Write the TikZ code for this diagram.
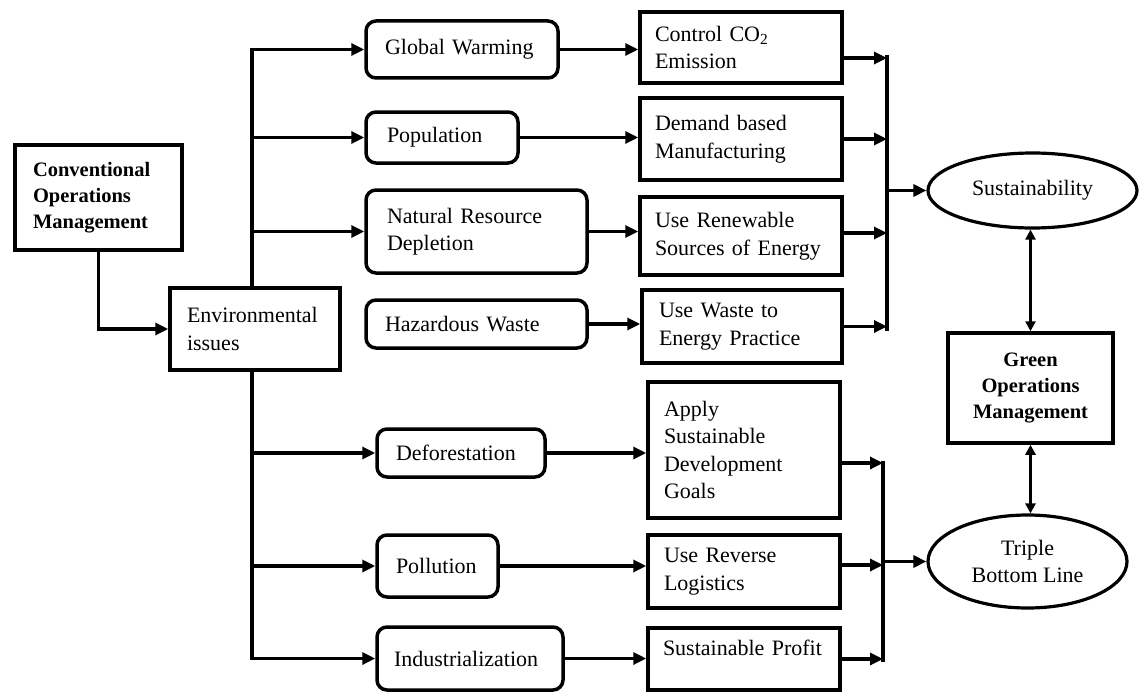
\documentclass[tikz,border=0pt]{standalone}
\usepackage{fontspec}
\setmainfont{Liberation Serif}
\usetikzlibrary{arrows.meta,shapes.geometric}
\begin{document}
\begin{tikzpicture}[x=1pt,y=-1pt,
  txt/.style={font=\fontsize{22}{27.5}\selectfont},
  bold/.style={font=\fontsize{20.5}{26}\selectfont\bfseries},
  sqbox/.style={draw, line width=3.5pt, fill=white, align=left, inner ysep=0pt, txt},
  rbox/.style={sqbox, rounded corners=10pt},
  oval/.style={draw, ellipse, line width=3.2pt, fill=white, align=center, inner sep=0pt, txt},
  bx/.style n args={4}{minimum width=#1pt, minimum height=#2pt, inner xsep=#3pt, text width=#4pt},
  wire/.style={line width=3.2pt},
  arr/.style={wire, -{Triangle[length=13pt,width=12pt]}},
  dbl/.style={wire, {Triangle[length=10pt,width=10pt]}-{Triangle[length=10pt,width=10pt]}}
]
\useasboundingbox (0,0) rectangle (1141,693);

% starting point and central issue
\node[sqbox, bold, bx={167}{105}{18}{131}] (conv) at (98.5,197.5) {Conventional\\Operations\\Management};
\node[sqbox, bx={170}{82}{17}{136}] (env) at (255,329) {Environmental\\issues};

% environmental issues
\node[rbox, bx={192}{57}{19}{154}] (gw)  at (462,49.5)   {Global Warming};
\node[rbox, bx={152}{51}{21}{110}] (pop) at (442,137.5)  {Population};
\node[rbox, bx={221}{83}{21}{179}] (nrd) at (476.5,231.5) {Natural Resource\\Depletion};
\node[rbox, bx={221}{48}{19}{183}] (haz) at (476.5,324)  {Hazardous Waste};
\node[rbox, bx={168}{48}{19}{130}] (def) at (461,453)    {Deforestation};
\node[rbox, bx={121}{62}{19}{83}]  (pol) at (437.5,566)  {Pollution};
\node[rbox, bx={186}{63}{17}{152}] (ind) at (470,658.5)  {Industrialization};

% responses
\node[sqbox, bx={202}{71}{15}{172}]  (co2) at (741,47.5)  {Control CO\textsubscript{2}\\Emission};
\node[sqbox, bx={202}{82}{15}{172}]  (dem) at (741,139)   {Demand based\\Manufacturing};
\node[sqbox, bx={202}{78}{15}{172}]  (ren) at (741,236)   {Use Renewable\\Sources of Energy};
\node[sqbox, bx={200}{73}{17}{166}]  (wte) at (742,326.5) {Use Waste to\\Energy Practice};
\node[sqbox, bx={192}{136}{16}{160}] (sdg) at (744,450)   {Apply\\Sustainable\\Development\\Goals};
\node[sqbox, bx={192}{73}{16}{160}]  (rl)  at (744,571.5) {Use Reverse\\Logistics};
\node[sqbox, bx={192}{62}{15}{162}]  (sp)  at (744,659)   {Sustainable Profit\\[-14pt]\strut};

% outcomes
\node[oval, minimum width=209pt, minimum height=75pt] (sus) at (1032.5,190.5) {Sustainability};
\node[sqbox, bold, align=center, minimum width=165pt, minimum height=110pt] (gom) at (1030.5,388) {Green\\Operations\\Management};
\node[oval, minimum width=199pt, minimum height=93pt] (tbl) at (1027.5,561.5) {Triple\\Bottom Line};

% bus lines
\coordinate (tk) at (252,0);
\coordinate (ub) at (887,0);
\coordinate (lb) at (883,0);

\draw[arr] (conv.south) |- (env.west);

\draw[arr] (env.north -| tk) |- (gw.west);
\draw[arr] (env.north -| tk) |- (pop.west);
\draw[arr] (env.north -| tk) |- (nrd.west);
\draw[arr] (env.south -| tk) |- (def.west);
\draw[arr] (env.south -| tk) |- (pol.west);
\draw[arr] (env.south -| tk) |- (ind.west);

\draw[arr] (gw.east)  -- (gw.east -| co2.west);
\draw[arr] (pop.east) -- (pop.east -| dem.west);
\draw[arr] (nrd.east) -- (nrd.east -| ren.west);
\draw[arr] (haz.east) -- (haz.east -| wte.west);
\draw[arr] (def.east) -- (def.east -| sdg.west);
\draw[arr] (pol.east) -- (pol.east -| rl.west);
\draw[arr] (ind.east) -- (ind.east -| sp.west);

% upper collector towards sustainability
\draw[wire] ([yshift=-8pt]co2.east -| ub) -- ([yshift=-4pt]wte.east -| ub);
\draw[arr] ([yshift=-10.5pt]co2.east) -- ([yshift=-10.5pt]co2.east -| ub);
\draw[arr] (dem.east) -- (dem.east -| ub);
\draw[arr] ([yshift=3pt]ren.east) -- ([yshift=3pt]ren.east -| ub);
\draw[arr] (wte.east) -- (wte.east -| ub);
\draw[arr] (ub |- sus.west) -- (sus.west);

% lower collector towards triple bottom line
\draw[wire] ([yshift=-11pt]sdg.east -| lb) -- ([yshift=-3pt]sp.east -| lb);
\draw[arr] ([yshift=-13pt]sdg.east) -- ([yshift=-13pt]sdg.east -| lb);
\draw[arr] ([yshift=6.5pt]rl.east) -- ([yshift=6.5pt]rl.east -| lb);
\draw[arr] (sp.east) -- (sp.east -| lb);
\draw[arr] (lb |- tbl.west) -- (tbl.west);

% two-way links with green operations management
\draw[dbl] (gom.north |- sus.south) -- (gom.north);
\draw[dbl] (gom.south) -- (gom.south |- tbl.north);
\end{tikzpicture}
\end{document}
